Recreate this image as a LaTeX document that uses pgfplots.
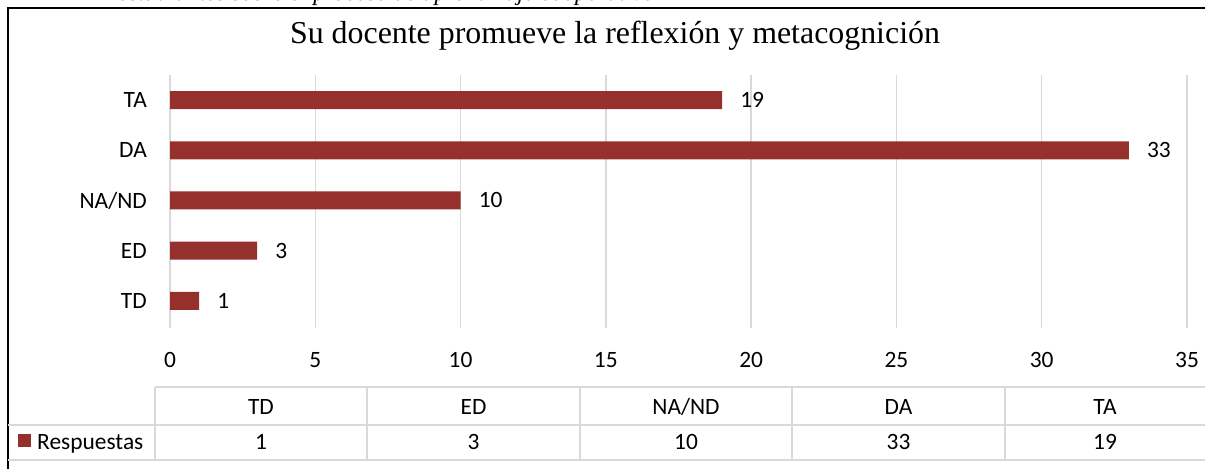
\documentclass[border=0pt]{standalone}
\usepackage{pgfplots}
\pgfplotsset{compat=1.18}
\usepackage{fontspec}
\setmainfont{Liberation Serif}
\newfontfamily\calibri{Carlito}
\newcommand\cf{\calibri\fontsize{23.5}{28}\selectfont}
\definecolor{barred}{RGB}{150,48,44}
\definecolor{gridgray}{RGB}{217,217,217}
\begin{document}
\begin{tikzpicture}[x=1bp,y=1bp]
\useasboundingbox (0,0) rectangle (1205,469);
\clip (0,0) rectangle (1205,469);
% cut-off caption above the frame
\node[anchor=base east, inner sep=0pt, font=\fontsize{24}{28}\selectfont\itshape] at (655,468.5) {estudiantes sobre el proceso de aprendizaje cooperativo};
% frame
\draw[line width=2bp] (8,0) -- (8,461) -- (1206,461);
% title
\node[font=\fontsize{32}{36}\selectfont] at (615,433) {Su docente promueve la reflexión y metacognición};
\begin{axis}[
  at={(170bp,141bp)}, anchor=south west, scale only axis,
  width=1017bp, height=253bp,
  xbar, bar width=18bp,
  xmin=0, xmax=35, ymin=-0.54, ymax=4.5,
  ytick={0,1,2,3,4}, yticklabels={TD,ED,NA/ND,DA,TA},
  xtick={0,5,...,35},
  axis line style={draw=none},
  major tick length=0pt,
  xmajorgrids, grid style={gridgray, line width=1.5bp},
  /pgf/number format/assume math mode=true,
  tick label style={font=\cf},
  xticklabel style={anchor=base, inner sep=0pt, yshift=-39.5bp},
  yticklabel style={anchor=east, inner sep=0pt, xshift=-23bp},
  nodes near coords,
  point meta=x,
  nodes near coords style={anchor=west, inner sep=0pt, xshift=18bp, font=\cf, text=black},
  clip=false,
]
\addplot[fill=barred, draw=none] coordinates {(1,0) (3,1) (10,2) (33,3) (19,4)};
\end{axis}
% data table
\begin{scope}[gridgray, line width=2bp]
\draw (155,82) -- (1206,82);
\draw (8,44) -- (1206,44);
\draw (8,9) -- (1206,9);
\foreach \x in {155,367,580,792,1005} \draw (\x,82) -- (\x,9);
\end{scope}
\foreach \x/\h/\v in {261/TD/1, 473.5/ED/3, 686/NA\slash ND/10, 898.5/DA/33, 1105/TA/19} {
  \node[anchor=base, inner sep=0pt, font=\cf] at (\x,54.5) {\h};
  \node[anchor=base, inner sep=0pt, font=\cf] at (\x,19.5) {\v};
}
\fill[barred] (18,21.5) rectangle (31,34.5);
\node[anchor=base west, inner sep=0pt, font=\cf] at (37,19.5) {Respuestas};
\end{tikzpicture}
\end{document}
